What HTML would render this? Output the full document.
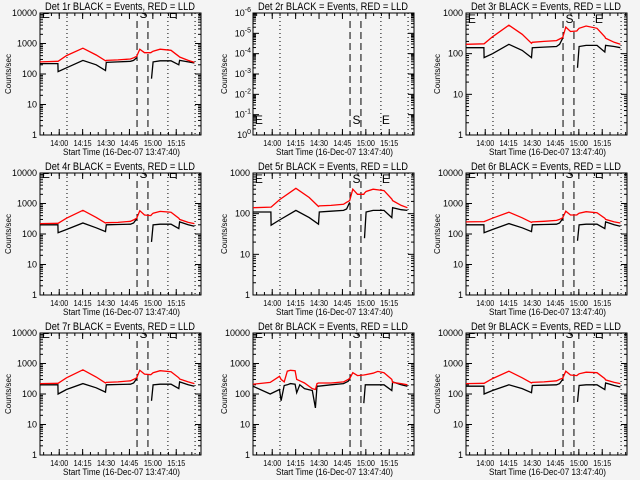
<!DOCTYPE html>
<html><head><meta charset="utf-8"><style>
html,body{margin:0;padding:0;background:#f4f4f4;}
svg{display:block;font-family:"Liberation Sans",sans-serif;}
</style></head><body>
<svg id="chart" width="640" height="480" viewBox="0 0 640 480"></svg>
<script>
// ---- data ----
const tickLabelsX = ["14:00","14:15","14:30","14:45","15:00","15:15"];
const tickMinutesX = [12.33,27.33,42.33,57.33,72.33,87.33];
const startLabel = "Start Time (16-Dec-07 13:47:40)";
const dottedMinutes = [17.3,82,99.4];
const dashedMinutes = [62.2,69.2];
const eventLetters = ["E","S","E"];
const eventLetterMinutes = [1.2,63.8,82.6];
const timesCommon = [0,11.5,11.6,17,27.5,36,42,42.5,50,58,60,62,64,67,71,71.5,72.5,77,84,89,89.5,95,99];
const red1 = [250,260,260,400,700,420,270,280,290,310,340,380,650,500,500,520,560,650,600,380,360,280,240];
const black1 = [220,220,120,160,280,200,130,240,250,260,280,340,null,null,null,70,250,270,270,200,280,250,230];
const red3 = [170,175,175,260,500,300,180,190,200,210,230,250,450,350,360,380,420,480,420,260,240,190,170];
const black3 = [140,140,80,100,170,120,80,140,145,150,170,240,null,null,null,45,150,160,160,110,160,150,140];
const red4 = [220,225,225,330,600,350,230,235,240,260,290,330,580,420,400,430,480,550,520,330,300,240,220];
const black4 = [200,200,110,140,230,160,120,200,205,210,230,320,null,null,null,55,200,210,210,150,250,200,180];
const red5 = [140,145,145,220,420,250,150,155,160,170,190,210,400,300,300,320,350,400,370,230,210,160,140];
const black5 = [110,110,52,70,120,80,55,110,115,120,130,190,null,null,null,25,110,120,120,80,140,125,120];
const red6 = [250,255,255,330,520,340,240,250,260,280,300,340,560,420,420,440,480,540,500,330,300,250,230];
const black6 = [200,200,110,140,220,160,120,200,205,210,230,320,null,null,null,60,200,210,210,150,250,200,180];
const red7 = [220,225,225,340,620,360,230,240,250,270,300,340,600,450,430,450,500,580,540,340,310,250,220];
const black7 = [200,200,100,140,220,160,115,200,205,210,230,320,null,null,null,60,200,210,210,150,250,200,180];
const red9 = [220,225,225,320,560,340,230,240,250,270,300,330,560,420,400,420,460,520,500,320,290,240,220];
const black9 = [180,180,100,130,200,150,110,190,195,200,220,300,null,null,null,55,190,200,200,140,230,190,170];
const times8 = [0,11,17,18,20,22,24,27,28,30,33,38,40,41,42,50,58,61,62,64,67,71,72,77,80,84,89,89.5,95,99];
const red8 = [210,240,380,300,250,560,600,580,300,270,230,150,140,220,230,230,250,300,320,500,400,420,430,480,550,500,300,240,220,200];
const black8 = [180,100,140,60,190,200,220,210,110,200,150,130,35,180,180,200,220,260,340,null,null,50,200,200,200,200,130,250,200,180];
const panelTitles = ["Det 1r","Det 2r","Det 3r","Det 4r","Det 5r","Det 6r","Det 7r","Det 8r","Det 9r"];
const panelMaxDecade = [4,0,3,4,3,4,4,4,4];

const NS="http://www.w3.org/2000/svg";
const svg=document.getElementById('chart');
function mk(tag,attrs,parent){const e=document.createElementNS(NS,tag);for(const k in attrs)e.setAttribute(k,attrs[k]);(parent||svg).appendChild(e);return e;}
const PX0=40,PX1=201,PY0=13,PY1=135,TMAX=(PX1-PX0)/1.56;
const seriesRed=[red1,null,red3,red4,red5,red6,red7,red8,red9];
const seriesBlack=[black1,null,black3,black4,black5,black6,black7,black8,black9];

for(let p=0;p<9;p++){
  const ox=[0,213,426][p%3], oy=[0,160,320][Math.floor(p/3)];
  const g=mk('g',{transform:`translate(${ox},${oy})`});
  
  
  const xs=m=>PX0+m*(PX1-PX0)/TMAX;
  let ys,decs;
  if(p===1){ decs=6; ys=v=>PY1-(Math.log10(v))*(PY1-PY0)/6; }
  else { decs=panelMaxDecade[p]; ys=v=>PY1-Math.log10(v)*(PY1-PY0)/decs; }
  const tt=mk('text',{x:45,y:10,'font-size':11,fill:'#000',textLength:150,lengthAdjust:'spacingAndGlyphs'},g);
  tt.textContent=panelTitles[p]+" BLACK = Events, RED = LLD";
  
  
  const fr=mk('rect',{x:PX0,y:PY0,width:PX1-PX0,height:PY1-PY0,fill:'none',stroke:'#000','stroke-width':1},g);
  
  
  for(let d=0;d<=decs;d++){
    const y=PY1-d*(PY1-PY0)/decs;
    mk('line',{x1:PX0,x2:PX0+6,y1:y,y2:y,stroke:'#000'},g);
    mk('line',{x1:PX1-6,x2:PX1,y1:y,y2:y,stroke:'#000'},g);
    const lab=mk('text',{x:37,y:y+3,'text-anchor':'end','font-size':9,fill:'#000'},g);
    
    
    if(p===1){
      lab.setAttribute('x',38);
      lab.textContent='10';
      const s=mk('tspan',{dy:-4,'font-size':7},lab);
      s.textContent=(d===0?'0':String(-d));
    } else lab.textContent=String(Math.pow(10,d));
    if(d<decs){for(let k=2;k<10;k++){const ym=PY1-(d+Math.log10(k))*(PY1-PY0)/decs;
      mk('line',{x1:PX0,x2:PX0+3,y1:ym,y2:ym,stroke:'#000'},g);
      mk('line',{x1:PX1-3,x2:PX1,y1:ym,y2:ym,stroke:'#000'},g);}}
  }
  const yl=mk('text',{transform:`translate(${p%3===0?11:14},74) rotate(-90)`,'text-anchor':'middle','font-size':8,fill:'#000'},g);
  yl.textContent='Counts/sec';
  
  
  for(let m=2.33;m<TMAX;m+=5){const x=xs(m);
    mk('line',{x1:x,x2:x,y1:PY1,y2:PY1-3,stroke:'#000'},g);mk('line',{x1:x,x2:x,y1:PY0,y2:PY0+3,stroke:'#000'},g);}
  tickMinutesX.forEach((m,i)=>{const x=xs(m);
    mk('line',{x1:x,x2:x,y1:PY1,y2:PY1-6,stroke:'#000'},g);mk('line',{x1:x,x2:x,y1:PY0,y2:PY0+6,stroke:'#000'},g);
    const t=mk('text',{x:x-9,y:146,'font-size':8,fill:'#000',textLength:18,lengthAdjust:'spacingAndGlyphs'},g);t.textContent=tickLabelsX[i];
    
    });
  const xl=mk('text',{x:63,y:155,'font-size':9,fill:'#000',textLength:117,lengthAdjust:'spacingAndGlyphs'},g);
  xl.textContent=startLabel;
  
  
  const cp=mk('clipPath',{id:'c'+p},g);mk('rect',{x:PX0,y:PY0,width:PX1-PX0,height:PY1-PY0},cp);
  const inner=mk('g',{'clip-path':`url(#c${p})`},g);
  dottedMinutes.forEach(m=>{const l=mk('line',{x1:xs(m),x2:xs(m),y1:PY0,y2:PY1,stroke:'#000','stroke-dasharray':'1,3'},inner);
    
    });
  dashedMinutes.forEach(m=>{const l=mk('line',{x1:xs(m),x2:xs(m),y1:PY0+8,y2:PY1,stroke:'#000','stroke-dasharray':'7,4'},inner);
    
    });
  eventLetters.forEach((L,i)=>{
    const by = p===1?124:(decs===3?23:18);
    const t=mk('text',{x:xs(eventLetterMinutes[i]),y:by,'font-size':12,fill:'#000'},inner);t.textContent=L;
    
    });
  const times=p===7?times8:timesCommon;
  [[seriesBlack[p],'#000','black-events-line'],[seriesRed[p],'#f00','red-lld-line']].forEach(([arr,col,nm])=>{
    if(!arr)return;let d='';let pen=false;
    arr.forEach((v,i)=>{if(v==null){pen=false;return;}d+=(pen?'L':'M')+xs(times[i]).toFixed(1)+','+ys(v).toFixed(1);pen=true;});
    const path=mk('path',{d:d,fill:'none',stroke:col,'stroke-width':1.3},inner);
    
    
  });
}
</script>
</body></html>
